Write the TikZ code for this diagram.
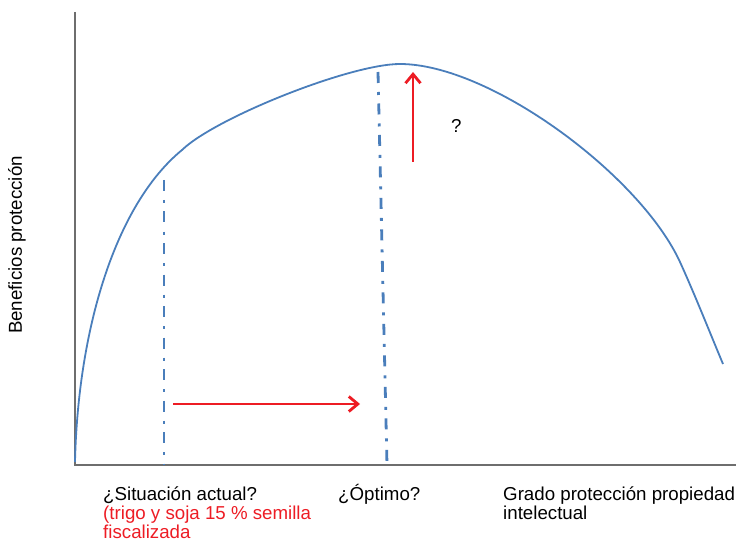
\documentclass[tikz,border=0pt]{standalone}
\usepackage{fontspec}
\setmainfont{Liberation Sans}
\usetikzlibrary{arrows.meta}
\definecolor{curveblue}{HTML}{4A7EBB}
\definecolor{arrred}{HTML}{ED1C24}
\definecolor{axisgray}{HTML}{6E6E6E}

\begin{document}
\begin{tikzpicture}[x=1pt, y=-1pt,
  axis/.style={draw=axisgray, line width=2.2pt},
  curve/.style={draw=curveblue, line width=1.8pt},
  guide/.style={draw=curveblue, line width=2.8pt,
                dash pattern=on 11pt off 9pt on 3pt off 8.5pt},
  arr/.style={-{Straight Barb[length=9pt, width=15pt, line width=2.8pt]},
              draw=arrred, line width=2.8pt},
  lbl/.style={font=\fontsize{18.7}{19}\selectfont, anchor=base west,
              align=left, inner sep=0pt}]
\useasboundingbox (0,0) rectangle (736,540);
% axes
\coordinate (o) at (75,465);
\draw[axis] (75,12) -- (o) -- (736,465);
% benefit curve
\coordinate (c0) at (75,462);
\coordinate (c1) at (182,150);
\coordinate (top) at (400,64);
\coordinate (c3) at (680,262);
\coordinate (c4) at (723,364);
\draw[curve] (c0) .. controls (78,330) and (115,205) .. (c1)
  .. controls (215,118) and (350,64) .. (top)
  .. controls (490,64) and (640,175) .. (c3)
  .. controls (695,295) and (710,333) .. (c4);
% actual and optimum
\coordinate (act) at (164,180);
\coordinate (opt) at (378,72);
\draw[guide] (act) -- (164,465);
\draw[guide] (opt) -- (387,465);
\coordinate (ha) at (173,404);
\coordinate (hb) at (360,404);
\coordinate (va) at (413,162);
\coordinate (vb) at (413,72);
\draw[arr] (ha) -- (hb);
\draw[arr] (va) -- (vb);
\node[lbl] (q) at (451,133) {?};
\node[lbl, rotate=90, anchor=center] (yl) at (17,245) {Beneficios protección};
\node[lbl] (sit) at (103,538) {¿Situación actual?\\
  \textcolor{arrred}{(trigo y soja 15 \% semilla}\\
  \textcolor{arrred}{fiscalizada}};
\node[lbl] (op) at (338,500) {¿Óptimo?};
\node[lbl] (gr) at (503,519) {Grado protección propiedad\\intelectual};
\end{tikzpicture}
\end{document}
